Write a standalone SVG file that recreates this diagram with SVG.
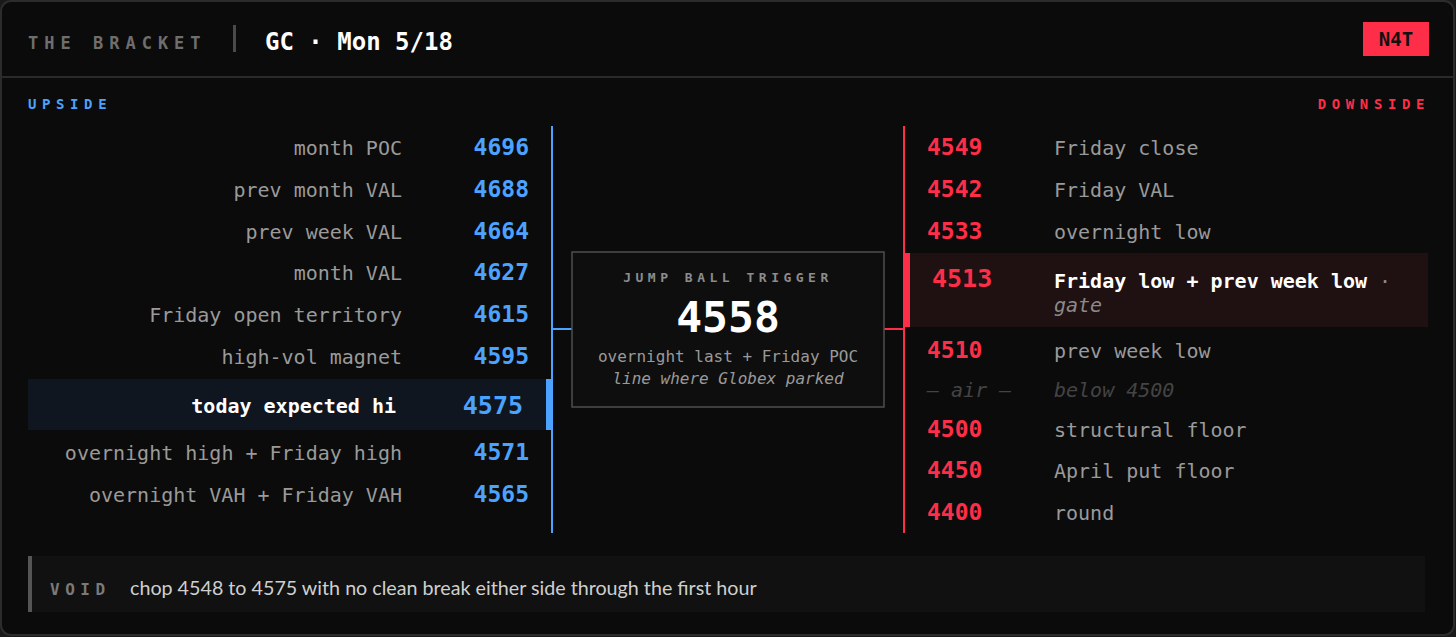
<svg xmlns="http://www.w3.org/2000/svg" width="1456" height="637" viewBox="0 0 1456 637">
<defs>
<style>
.mono{font-family:"DejaVu Sans Mono","Liberation Mono",monospace}
.lbl{font-family:"DejaVu Sans Mono","Liberation Mono",monospace;font-size:20px;fill:#9a9a9a}
.hl{font-family:"DejaVu Sans Mono","Liberation Mono",monospace;font-size:20px;font-weight:bold;fill:#ffffff}
.it{font-family:"DejaVu Sans Mono","Liberation Mono",monospace;font-size:20px;font-style:italic;fill:#8a8a8a}
.air{font-family:"DejaVu Sans Mono","Liberation Mono",monospace;font-size:20px;font-style:italic;fill:#444444}
.upn{font-family:"DejaVu Sans Mono","Liberation Mono",monospace;font-size:23px;font-weight:bold;fill:#4ba3ff}
.dnn{font-family:"DejaVu Sans Mono","Liberation Mono",monospace;font-size:23px;font-weight:bold;fill:#ff2e48}
.big{font-size:25px}
.cap{font-family:"DejaVu Sans Mono","Liberation Mono",monospace;font-weight:bold}
</style>
</defs>
<rect x="0" y="0" width="1456" height="637" fill="#1a1a1a"/>
<rect x="1" y="1" width="1453" height="634" rx="10" fill="#0b0b0b" stroke="#2c2c2c" stroke-width="2"/>
<line x1="1" y1="77" x2="1454" y2="77" stroke="#2a2a2a" stroke-width="2"/>

<g id="header">
<text x="28" y="49" class="cap" font-size="17" fill="#6e6e6e" letter-spacing="6">THE BRACKET</text>
<rect x="233" y="25" width="3" height="27" fill="#4a4a4a"/>
<text x="265" y="50" class="cap" font-size="24" fill="#ffffff">GC · Mon 5/18</text>
<rect x="1363" y="22" width="66" height="34" fill="#ff2e48"/>
<text x="1396" y="46" class="cap" font-size="19" fill="#111" text-anchor="middle">N4T</text>
</g>

<text x="28" y="109" class="cap" font-size="14" fill="#4ba3ff" letter-spacing="5.6">UPSIDE</text>
<text x="1430" y="109" class="cap" font-size="14" fill="#ff2e48" letter-spacing="5.6" text-anchor="end">DOWNSIDE</text>

<g id="connectors">
<line x1="552" y1="126" x2="552" y2="533" stroke="#4ba3ff" stroke-width="2"/>
<line x1="904" y1="126" x2="904" y2="533" stroke="#ff2e48" stroke-width="2"/>
<line x1="552" y1="329" x2="572" y2="329" stroke="#4ba3ff" stroke-width="2"/>
<line x1="884" y1="329" x2="904" y2="329" stroke="#ff2e48" stroke-width="2"/>
</g>

<g id="upside">
<g id="up-4696"><text x="402" y="155" class="lbl" text-anchor="end">month POC</text><text x="529" y="155" class="upn" text-anchor="end">4696</text></g>
<g id="up-4688"><text x="402" y="197" class="lbl" text-anchor="end">prev month VAL</text><text x="529" y="197" class="upn" text-anchor="end">4688</text></g>
<g id="up-4664"><text x="402" y="239" class="lbl" text-anchor="end">prev week VAL</text><text x="529" y="239" class="upn" text-anchor="end">4664</text></g>
<g id="up-4627"><text x="402" y="280" class="lbl" text-anchor="end">month VAL</text><text x="529" y="280" class="upn" text-anchor="end">4627</text></g>
<g id="up-4615"><text x="402" y="322" class="lbl" text-anchor="end">Friday open territory</text><text x="529" y="322" class="upn" text-anchor="end">4615</text></g>
<g id="up-4595"><text x="402" y="364" class="lbl" text-anchor="end">high-vol magnet</text><text x="529" y="364" class="upn" text-anchor="end">4595</text></g>
<g id="up-4575">
<rect x="28" y="379" width="524" height="51" fill="#0f1620"/>
<rect x="546" y="379" width="6" height="51" fill="#4ba3ff"/>
<text x="396" y="413" class="hl" text-anchor="end">today expected hi</text>
<text x="523" y="414" class="upn big" text-anchor="end">4575</text>
</g>
<g id="up-4571"><text x="402" y="460" class="lbl" text-anchor="end">overnight high + Friday high</text><text x="529" y="460" class="upn" text-anchor="end">4571</text></g>
<g id="up-4565"><text x="402" y="502" class="lbl" text-anchor="end">overnight VAH + Friday VAH</text><text x="529" y="502" class="upn" text-anchor="end">4565</text></g>
</g>

<g id="trigger">
<rect x="572" y="252" width="312" height="155" fill="#0e0e0e" stroke="#4f4f4f" stroke-width="1.5"/>
<text x="728" y="282" class="cap" font-size="13" fill="#8c8c8c" letter-spacing="4.5" text-anchor="middle">JUMP BALL TRIGGER</text>
<text x="728" y="332" class="cap" font-size="43" fill="#ffffff" text-anchor="middle">4558</text>
<text x="728" y="362" class="mono" font-size="16" fill="#9a9a9a" text-anchor="middle">overnight last + Friday POC</text>
<text x="728" y="384" class="mono" font-size="16" font-style="italic" fill="#9a9a9a" text-anchor="middle">line where Globex parked</text>
</g>

<g id="downside">
<g id="dn-4549"><text x="927" y="155" class="dnn">4549</text><text x="1054" y="155" class="lbl">Friday close</text></g>
<g id="dn-4542"><text x="927" y="197" class="dnn">4542</text><text x="1054" y="197" class="lbl">Friday VAL</text></g>
<g id="dn-4533"><text x="927" y="239" class="dnn">4533</text><text x="1054" y="239" class="lbl">overnight low</text></g>
<g id="dn-4513">
<rect x="904" y="253" width="524" height="74" fill="#1f1011"/>
<rect x="904" y="253" width="6" height="74" fill="#ff2e48"/>
<text x="932" y="287" class="dnn big">4513</text>
<text x="1054" y="288" class="hl">Friday low + prev week low <tspan style="fill:#8a8a8a;font-weight:normal">·</tspan></text>
<text x="1054" y="312" class="it">gate</text>
</g>
<g id="dn-4510"><text x="927" y="358" class="dnn">4510</text><text x="1054" y="358" class="lbl">prev week low</text></g>
<g id="dn-air"><text x="927" y="397" class="air">— air —</text><text x="1054" y="397" class="air">below 4500</text></g>
<g id="dn-4500"><text x="927" y="437" class="dnn">4500</text><text x="1054" y="437" class="lbl">structural floor</text></g>
<g id="dn-4450"><text x="927" y="478" class="dnn">4450</text><text x="1054" y="478" class="lbl">April put floor</text></g>
<g id="dn-4400"><text x="927" y="520" class="dnn">4400</text><text x="1054" y="520" class="lbl">round</text></g>
</g>

<g id="void">
<rect x="28" y="556" width="1397" height="56" fill="#111111"/>
<rect x="28" y="556" width="4" height="56" fill="#555555"/>
<text x="50" y="595" class="cap" font-size="16" fill="#7a7a7a" letter-spacing="5.5">VOID</text>
<text x="130" y="595" font-family="Lato,'Open Sans',sans-serif" font-size="19.7" fill="#cfcfcf">chop 4548 to 4575 with no clean break either side through the first hour</text>
</g>
</svg>
